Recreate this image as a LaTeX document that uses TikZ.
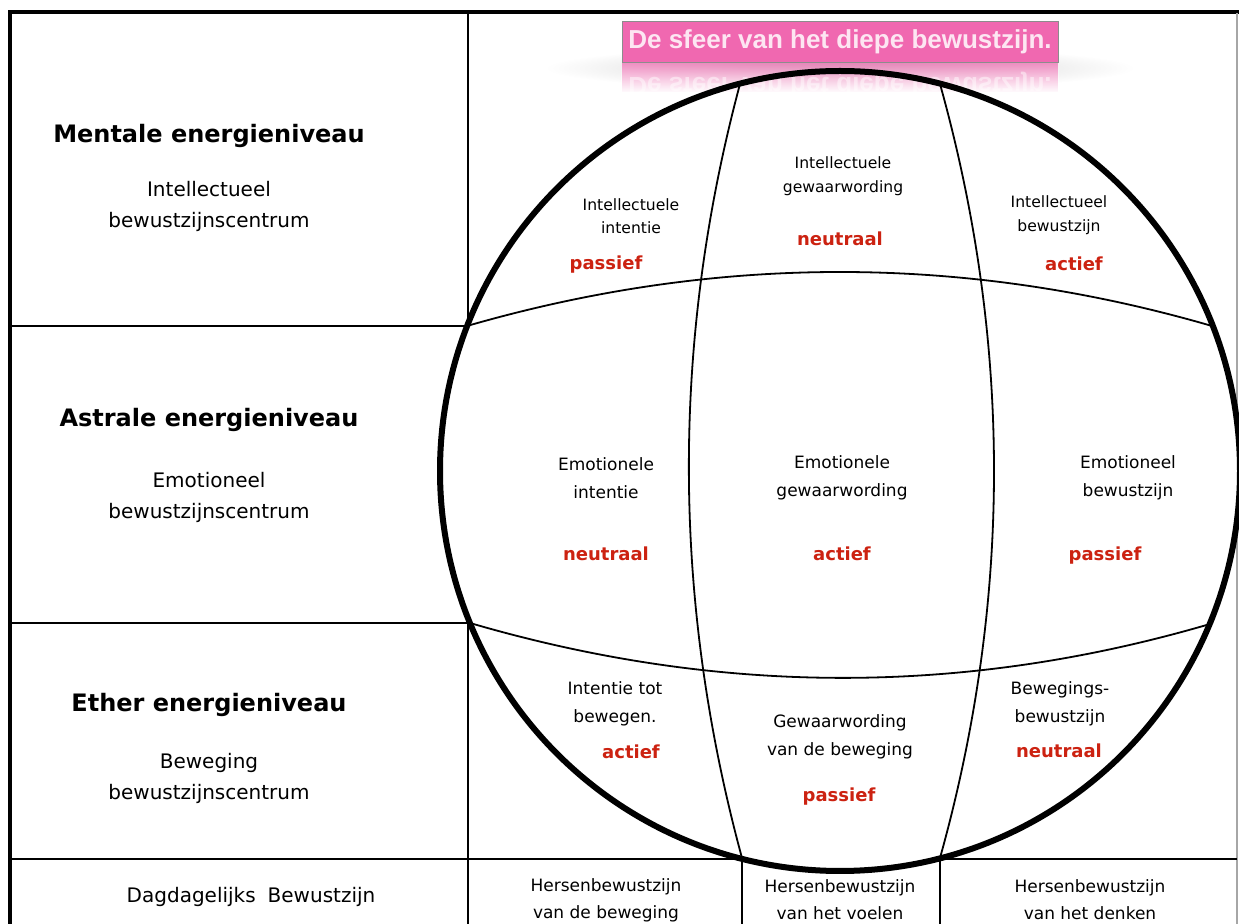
\documentclass[tikz,border=0pt]{standalone}
\usepackage{fontspec}
\setmainfont{DejaVu Sans}
\newfontfamily\titlefont{Liberation Sans}
\usetikzlibrary{fadings}

\definecolor{boxpink}{RGB}{240,104,176}
\definecolor{titletxt}{RGB}{253,230,242}
\definecolor{statered}{RGB}{204,34,17}

\begin{document}
\begin{tikzpicture}[x=0.5pt, y=-0.5pt,
        head/.style={font=\bfseries\fontsize{12}{14}\selectfont},
        sub/.style={align=center, font=\fontsize{10}{15.5}\selectfont},
        cell/.style={align=center, font=\fontsize{8.5}{14}\selectfont},
        topcell/.style={align=center, font=\fontsize{7.8}{11.8}\selectfont},
        statetxt/.style={text=statered, font=\bfseries\fontsize{9}{11}\selectfont},
        brain/.style={align=center, font=\fontsize{8.5}{13.5}\selectfont},
        titlebox/.style={fill=boxpink, draw=black!45, line width=0.5pt, text=titletxt,
            minimum width=218pt, minimum height=20.5pt, inner sep=0pt,
            font=\titlefont\bfseries\fontsize{13}{15}\selectfont},
        frame/.style={line width=2pt},
        grid/.style={line width=1pt},
        meridian/.style={line width=0.9pt}
    ]
    \useasboundingbox (0,0) rectangle (1239,924);

    % table
    \draw[frame] (8,12) -- (1239,12);
    \draw[frame] (10,11) -- (10,924);
    \draw[line width=0.8pt, black!35] (1237,13) -- (1237,924);
    \draw[grid] (468,13) -- (468,924);
    \draw[grid] (11,326) -- (468,326);
    \draw[grid] (11,623) -- (468,623);
    \draw[line width=1.3pt] (11,859) -- (1237,859);
    \draw[grid] (742,859) -- (742,924);
    \draw[grid] (940,859) -- (940,924);

    % sphere
    \coordinate (c) at (840,471);
    \fill[white] (c) circle [radius=400];
    \shade[inner color=black!22, outer color=white] (840,68) ellipse [x radius=295, y radius=22];
    \begin{scope}
        \clip (622,63) rectangle (1058,92);
        \fill[boxpink, fill opacity=0.7] (622,63) rectangle (1058,104);
        \node[text=titletxt, text opacity=0.6, yscale=-1, font=\titlefont\bfseries\fontsize{13}{15}\selectfont] (spiegel) at (840,84) {De sfeer van het diepe bewustzijn.};
    \end{scope}
    \fill[white, path fading=north] (621,63) rectangle (1059,93);

    \coordinate (mt1) at (740,84);
    \coordinate (mb1) at (742,858);
    \coordinate (mt2) at (940,84);
    \coordinate (mb2) at (940,858);
    \coordinate (pl1) at (467,326);
    \coordinate (pr1) at (1212,326);
    \coordinate (pl2) at (470,623);
    \coordinate (pr2) at (1210,624);
    \draw[meridian] (mt1) .. controls (671,342) and (672,600) .. (mb1);
    \draw[meridian] (mt2) .. controls (1012,342) and (1012,600) .. (mb2);
    \draw[meridian] (pl1) .. controls (716,254) and (964,254) .. (pr1);
    \draw[meridian] (pl2) .. controls (716,695) and (961,697) .. (pr2);
    \draw[line width=3pt] (c) circle [radius=400];

    % left column
    \node[head] (mentaal) at (209,136) {Mentale energieniveau};
    \node[sub] (mentaalsub) at (209,206) {Intellectueel\\bewustzijnscentrum};
    \node[head] (astraal) at (209,420) {Astrale energieniveau};
    \node[sub] (astraalsub) at (209,497) {Emotioneel\\bewustzijnscentrum};
    \node[head] (ether) at (209,705) {Ether energieniveau};
    \node[sub] (ethersub) at (209,778) {Beweging\\bewustzijnscentrum};
    \node[sub] (dag) at (251,897) {Dagdagelijks\hspace{0.6em}Bewustzijn};

    % cells of the sphere
    \node[topcell] (intint) at (631,216) {Intellectuele\\intentie};
    \node[statetxt] (intintst) at (606,265) {passief};
    \node[topcell] (intgew) at (843,176) {Intellectuele\\gewaarwording};
    \node[statetxt] (intgewst) at (840,239) {neutraal};
    \node[topcell] (intbew) at (1059,215) {Intellectueel\\bewustzijn};
    \node[statetxt] (intbewst) at (1074,264) {actief};

    \node[cell] (emoint) at (606,478) {Emotionele\\intentie};
    \node[statetxt] (emointst) at (606,554) {neutraal};
    \node[cell] (emogew) at (842,478) {Emotionele\\gewaarwording};
    \node[statetxt] (emogewst) at (842,554) {actief};
    \node[cell] (emobew) at (1128,478) {Emotioneel\\bewustzijn};
    \node[statetxt] (emobewst) at (1105,556) {passief};

    \node[cell] (bewint) at (615,704) {Intentie tot\\bewegen.};
    \node[statetxt] (bewintst) at (631,752) {actief};
    \node[cell] (bewgew) at (840,737) {Gewaarwording\\van de beweging};
    \node[statetxt] (bewgewst) at (839,797) {passief};
    \node[cell] (bewbew) at (1060,704) {Bewegings-\\bewustzijn};
    \node[statetxt] (bewbewst) at (1059,751) {neutraal};

    % bottom row
    \node[brain] (hbew) at (606,900) {Hersenbewustzijn\\van de beweging};
    \node[brain] (hvoel) at (840,900) {Hersenbewustzijn\\van het voelen};
    \node[brain] (hdenk) at (1090,900) {Hersenbewustzijn\\van het denken};

    \node[titlebox] (titel) at (840,42) {De sfeer van het diepe bewustzijn.};
\end{tikzpicture}
\end{document}
